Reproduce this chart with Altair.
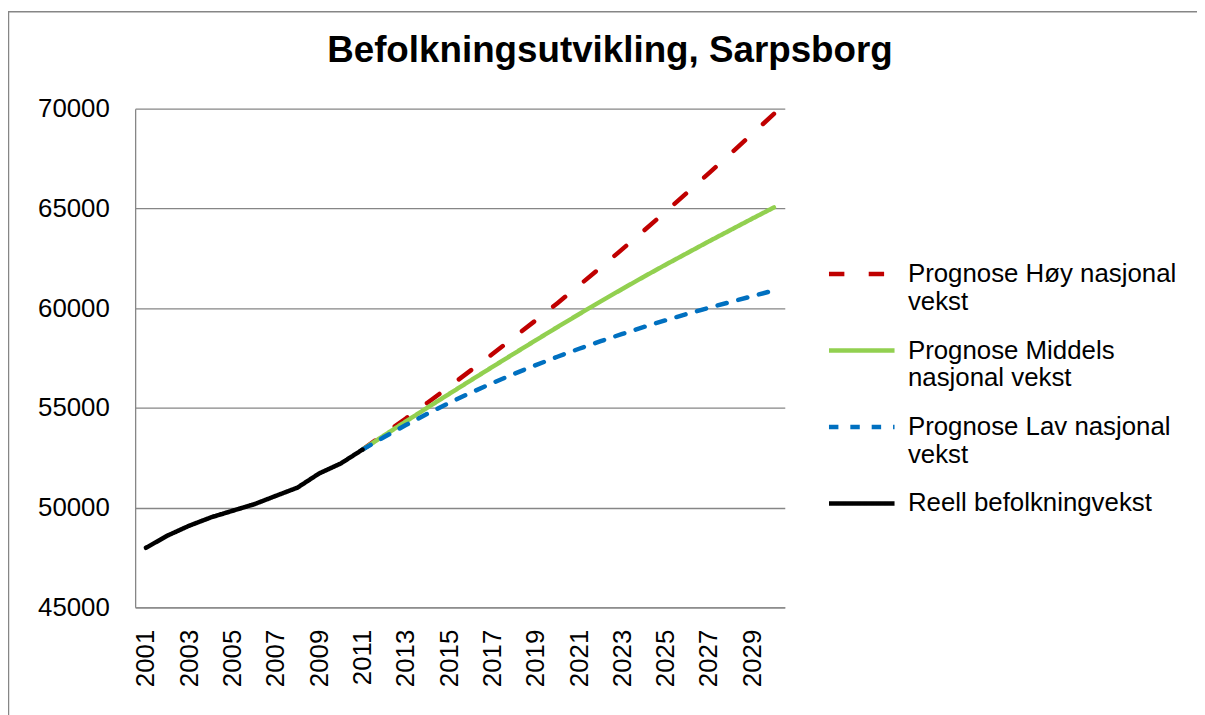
import altair as alt
import pandas as pd

FONT = "Liberation Sans"

years_hist = [2001, 2002, 2003, 2004, 2005, 2006, 2007, 2008, 2009, 2010, 2011]
reell = [47985, 48600, 49095, 49510, 49840, 50170, 50590, 51005, 51715, 52215, 52910]

years_prog = [2011, 2012, 2013, 2014, 2015, 2016, 2017, 2018, 2019, 2020,
              2021, 2022, 2023, 2024, 2025, 2026, 2027, 2028, 2029, 2030]
hoy = [52910, 53690, 54470, 55260, 56060, 56880, 57700, 58540, 59390, 60250,
       61140, 62040, 62960, 63890, 64840, 65800, 66770, 67750, 68740, 69740]
middels = [52910, 53620, 54320, 55015, 55700, 56380, 57055, 57725, 58390, 59050,
           59700, 60340, 60965, 61580, 62180, 62765, 63350, 63920, 64490, 65050]
lav = [52910, 53540, 54140, 54710, 55250, 55760, 56245, 56705, 57145, 57565,
       57965, 58345, 58710, 59060, 59395, 59715, 60020, 60310, 60600, 60890]

all_years = [2001, 2002, 2003, 2004, 2005, 2006, 2007, 2008, 2009, 2010,
             2011, 2012, 2013, 2014, 2015, 2016, 2017, 2018, 2019, 2020,
             2021, 2022, 2023, 2024, 2025, 2026, 2027, 2028, 2029, 2030]
label_years = [2001, 2003, 2005, 2007, 2009, 2011, 2013, 2015, 2017, 2019,
               2021, 2023, 2025, 2027, 2029]
y_ticks = [45000, 50000, 55000, 60000, 65000, 70000]

series = ["Prognose Høy nasjonal vekst", "Prognose Middels nasjonal vekst",
          "Prognose Lav nasjonal vekst", "Reell befolkningvekst"]
legend_lines = [["Prognose Høy nasjonal", "vekst"],
                ["Prognose Middels", "nasjonal vekst"],
                ["Prognose Lav nasjonal", "vekst"],
                ["Reell befolkningvekst"]]
colors = ["#C00000", "#92D050", "#0070C0", "#000000"]
dashes = [[15.5, 24.5], [1, 0], [9.5, 12], [1, 0]]

rows = []
for yr, v in zip(years_prog, hoy):
    rows.append({"year": yr, "value": v, "series": series[0]})
for yr, v in zip(years_prog, middels):
    rows.append({"year": yr, "value": v, "series": series[1]})
for yr, v in zip(years_prog, lav):
    rows.append({"year": yr, "value": v, "series": series[2]})
for yr, v in zip(years_hist, reell):
    rows.append({"year": yr, "value": v, "series": series[3]})
df = pd.DataFrame(rows)

def js_list(items):
    return "[" + ", ".join("'" + s + "'" for s in items) + "]"

label_expr = ""
for name, lines in zip(series, legend_lines):
    label_expr += "datum.label == '" + name + "' ? " + js_list(lines) + " : "
label_expr += "datum.label"

legend = alt.Legend(
    title=None, orient="none", legendX=696, legendY=131,
    symbolType="stroke", symbolSize=4356, symbolStrokeWidth=4.5,
    labelFont=FONT, labelFontSize=26, labelColor="#000000",
    labelLimit=500, labelOffset=11, rowPadding=0, labelExpr=label_expr,
)

lines_chart = alt.Chart(df).mark_line(strokeWidth=4.5, strokeCap="round", strokeJoin="round").encode(
    x=alt.X("year:O", scale=alt.Scale(domain=all_years, padding=0.5),
            axis=alt.Axis(values=label_years, labelAngle=-90, title=None,
                          labelPadding=22, ticks=False, grid=False,
                          labelFont=FONT, labelFontSize=26, labelColor="#000000",
                          domainColor="#868686", domainWidth=1.3)),
    y=alt.Y("value:Q", scale=alt.Scale(domain=[45000, 70000], nice=False, zero=False),
            axis=alt.Axis(values=y_ticks, format="d", title=None, labelPadding=26,
                          ticks=False, grid=True, gridColor="#868686", gridWidth=1.3,
                          labelFont=FONT, labelFontSize=26, labelColor="#000000",
                          domainColor="#868686", domainWidth=1.3)),
    color=alt.Color("series:N", scale=alt.Scale(domain=series, range=colors), legend=legend),
    strokeDash=alt.StrokeDash("series:N", scale=alt.Scale(domain=series, range=dashes), legend=legend),
)

one = pd.DataFrame({"a": [0]})
frame_left = alt.Chart(one).mark_rule(color="#868686", strokeWidth=1.5).encode(
    x=alt.value(-127.5), y=alt.value(-98), y2=alt.value(620))
frame_top = alt.Chart(one).mark_rule(color="#868686", strokeWidth=1.5).encode(
    y=alt.value(-97.5), x=alt.value(-128), x2=alt.value(1100))

chart = alt.layer(frame_left, frame_top, lines_chart).properties(
    width=654, height=502,
    background="white",
    autosize=alt.AutoSizeParams(type="none"),
    padding={"left": 128, "top": 99, "right": 415, "bottom": 106},
    title=alt.TitleParams("Befolkningsutvikling, Sarpsborg", font=FONT, fontSize=37,
                          fontWeight="bold", color="#000000", anchor="middle",
                          frame="group", baseline="alphabetic", dx=151, offset=-89),
).configure_view(stroke="transparent")

chart.save("out.html", embed_options={"renderer": "svg", "actions": False})
